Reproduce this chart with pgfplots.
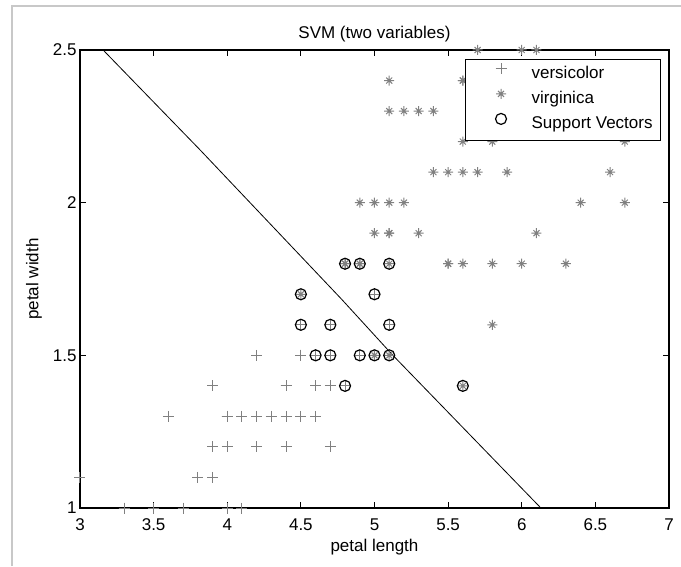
\documentclass[border=0pt]{standalone}
\usepackage{fontspec}
\setmainfont{Liberation Sans}
\usepackage{pgfplots}
\pgfplotsset{compat=1.18}
\definecolor{mgray}{RGB}{128,128,128}
\definecolor{framegray}{RGB}{200,200,200}
\pgfdeclareplotmark{mstar}{%
  \pgfpathmoveto{\pgfqpoint{-\pgfplotmarksize}{0pt}}%
  \pgfpathlineto{\pgfqpoint{\pgfplotmarksize}{0pt}}%
  \pgfpathmoveto{\pgfqpoint{0pt}{-\pgfplotmarksize}}%
  \pgfpathlineto{\pgfqpoint{0pt}{\pgfplotmarksize}}%
  \pgfpathmoveto{\pgfqpoint{-0.6\pgfplotmarksize}{-0.6\pgfplotmarksize}}%
  \pgfpathlineto{\pgfqpoint{0.6\pgfplotmarksize}{0.6\pgfplotmarksize}}%
  \pgfpathmoveto{\pgfqpoint{-0.6\pgfplotmarksize}{0.6\pgfplotmarksize}}%
  \pgfpathlineto{\pgfqpoint{0.6\pgfplotmarksize}{-0.6\pgfplotmarksize}}%
  \pgfusepathqstroke}
\newcommand{\fs}{\fontsize{17}{20}\selectfont}
\begin{document}
\begin{tikzpicture}[x=1pt,y=1pt]
\useasboundingbox (0,0) rectangle (681,566);
\draw[framegray, line width=2pt] (12,0) -- (12,560) -- (681,560);
\begin{axis}[
  at={(80pt,58pt)}, anchor=south west,
  width=589pt, height=458pt, scale only axis,
  xmin=3, xmax=7, ymin=1, ymax=2.5,
  xtick={3,3.5,4,4.5,5,5.5,6,6.5,7},
  ytick={1,1.5,2,2.5},
  clip=false,
  axis line style={black, line width=1.1pt},
  tick align=inside,
  major tick length=6pt,
  every tick/.style={black, line width=1pt},
  /pgf/number format/assume math mode=true,
  tick label style={font=\fs},
  xticklabel style={anchor=base, yshift=-22pt},
  yticklabel style={anchor=east},
  title={SVM (two variables)},
  title style={font=\fs, at={(0.5,1)}, anchor=base, yshift=5pt},
  xlabel={petal length},
  ylabel={petal width},
  xlabel style={font=\fs, at={(axis description cs:0.5,0)}, anchor=base, yshift=-43pt},
  ylabel style={font=\fs, at={(axis description cs:0,0.5)}, anchor=center, yshift=46pt},
  legend cell align=left,
  legend style={at={(0.9864,0.9803)}, anchor=north east, draw=black, line width=0.8pt,
    fill=white, inner xsep=5pt, inner ysep=3pt, row sep=0pt, font=\fs,
    nodes={inner xsep=3pt, inner ysep=4.5pt, text height=12pt, text depth=4pt}},
  legend image code/.code={\path (-30pt,0pt) (27pt,0pt); \draw[#1] plot coordinates {(0pt,6pt)};},
]
\addplot[only marks, mark=+, mark size=5.5pt, mgray, line width=1pt] coordinates {
(4.7,1.4) (4.5,1.5) (4.9,1.5) (4.0,1.3) (4.6,1.5) (4.5,1.3) (4.7,1.6) (3.3,1.0) (4.6,1.3) (3.9,1.4)
(3.5,1.0) (4.2,1.5) (4.0,1.0) (4.7,1.4) (3.6,1.3) (4.4,1.4) (4.5,1.5) (4.1,1.0) (4.5,1.5) (3.9,1.1)
(4.8,1.8) (4.0,1.3) (4.9,1.5) (4.7,1.2) (4.3,1.3) (4.4,1.4) (4.8,1.4) (5.0,1.7) (4.5,1.5) (3.5,1.0)
(3.8,1.1) (3.7,1.0) (3.9,1.2) (5.1,1.6) (4.5,1.5) (4.5,1.6) (4.7,1.5) (4.4,1.3) (4.1,1.3) (4.0,1.3)
(4.4,1.2) (4.6,1.4) (4.0,1.2) (3.3,1.0) (4.2,1.3) (4.2,1.2) (4.2,1.3) (4.3,1.3) (3.0,1.1) (4.1,1.3)
};
\addlegendentry{versicolor}
\addplot[only marks, mark=mstar, mark size=5pt, mgray, line width=1pt] coordinates {
(6.0,2.5) (5.1,1.9) (5.9,2.1) (5.6,1.8) (5.8,2.2) (6.6,2.1) (4.5,1.7) (6.3,1.8) (5.8,1.8) (6.1,2.5)
(5.1,2.0) (5.3,1.9) (5.5,2.1) (5.0,2.0) (5.1,2.4) (5.3,2.3) (5.5,1.8) (6.7,2.2) (6.9,2.3) (5.0,1.5)
(5.7,2.3) (4.9,2.0) (6.7,2.0) (4.9,1.8) (5.7,2.1) (6.0,1.8) (4.8,1.8) (4.9,1.8) (5.6,2.1) (5.8,1.6)
(6.1,1.9) (6.4,2.0) (5.6,2.2) (5.1,1.5) (5.6,1.4) (6.1,2.3) (5.6,2.4) (5.5,1.8) (4.8,1.8) (5.4,2.1)
(5.6,2.4) (5.1,2.3) (5.1,1.9) (5.9,2.3) (5.7,2.5) (5.2,2.3) (5.0,1.9) (5.2,2.0) (5.4,2.3) (5.1,1.8)
};
\addlegendentry{virginica}
\addplot[only marks, mark=o, mark size=5.5pt, black, line width=1.2pt] coordinates {
(4.5,1.7) (4.5,1.6) (4.7,1.6) (4.6,1.5) (4.7,1.5) (4.8,1.4) (4.8,1.8) (4.9,1.8) (5.1,1.8) (5.0,1.7)
(5.1,1.6) (4.9,1.5) (5.0,1.5) (5.1,1.5) (5.6,1.4)
};
\addlegendentry{Support Vectors}
\addplot[black, line width=0.8pt, no marks, forget plot] coordinates {
(3.157,2.5) (3.815,2.173) (4.778,1.683) (5.125,1.5) (5.969,1.08) (6.13,1.0)
};
\end{axis}
\end{tikzpicture}
\end{document}
